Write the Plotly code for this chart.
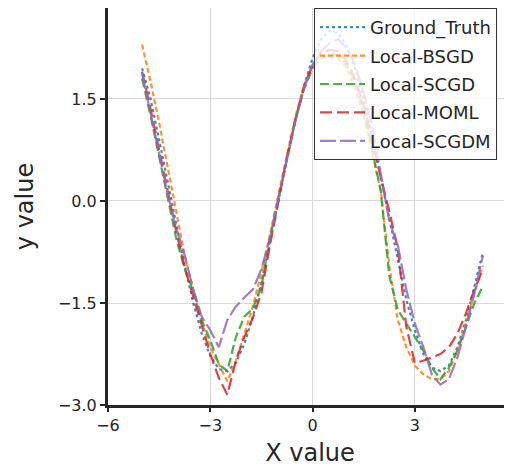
import plotly.graph_objects as go

x_vals = [-5.00, -4.75, -4.50, -4.25, -4.00, -3.75, -3.50, -3.25, -3.00, -2.75,
          -2.50, -2.25, -2.00, -1.75, -1.50, -1.25, -1.00, -0.75, -0.50, -0.25,
          0.00, 0.25, 0.50, 0.75, 1.00, 1.25, 1.50, 1.75, 2.00, 2.25,
          2.50, 2.75, 3.00, 3.25, 3.50, 3.75, 4.00, 4.25, 4.50, 4.75, 5.00]

ground_truth = [1.95, 1.50, 0.90, 0.28, -0.35, -0.95, -1.50, -1.95, -2.28, -2.47,
                -2.50, -2.38, -2.10, -1.70, -1.20, -0.62, 0.00, 0.62, 1.20, 1.70,
                2.10, 2.38, 2.50, 2.47, 2.28, 1.95, 1.50, 0.95, 0.35, -0.28,
                -0.90, -1.45, -1.90, -2.25, -2.45, -2.50, -2.42, -2.15, -1.75, -1.25, -0.75]

local_bsgd = [2.30, 1.75, 1.15, 0.50, -0.15, -0.80, -1.30, -1.80, -2.15, -2.40,
              -2.65, -2.35, -1.95, -1.55, -1.05, -0.50, 0.10, 0.70, 1.25, 1.70,
              2.00, 2.18, 2.22, 2.10, 1.95, 1.65, 1.25, 0.70, 0.15, -0.95,
              -1.75, -2.15, -2.42, -2.55, -2.62, -2.62, -2.50, -2.20, -1.80, -1.35, -0.95]

local_scgd = [1.80, 1.25, 0.65, 0.05, -0.55, -1.00, -1.32, -1.75, -2.05, -2.40,
              -2.50, -2.00, -1.70, -1.58, -1.25, -0.55, 0.05, 0.65, 1.20, 1.65,
              1.95, 2.10, 2.15, 2.15, 2.00, 1.75, 1.35, 0.75, 0.15, -1.10,
              -1.60, -1.80, -2.00, -2.20, -2.45, -2.62, -2.45, -2.20, -1.85, -1.50, -1.25]

local_moml = [1.90, 1.35, 0.75, 0.15, -0.45, -0.98, -1.40, -1.85, -2.25, -2.60,
              -2.85, -2.35, -2.00, -1.72, -1.35, -0.65, 0.00, 0.65, 1.20, 1.68,
              2.00, 2.18, 2.22, 2.20, 2.05, 1.80, 1.40, 0.90, 0.35, -0.15,
              -0.70, -1.85, -2.38, -2.35, -2.30, -2.25, -2.15, -1.95, -1.65, -1.30, -1.00]

local_scgdm = [1.88, 1.30, 0.70, 0.10, -0.40, -0.80, -1.30, -1.70, -1.90, -2.15,
               -1.75, -1.55, -1.42, -1.30, -1.00, -0.55, 0.05, 0.62, 1.18, 1.65,
               2.00, 2.20, 2.32, 2.38, 2.25, 2.00, 1.60, 1.10, 0.40, -0.30,
               -0.65, -1.30, -1.80, -2.15, -2.55, -2.70, -2.62, -2.30, -1.85, -1.35, -0.80]

series_names = ["Ground_Truth", "Local-BSGD", "Local-SCGD", "Local-MOML", "Local-SCGDM"]
series_values = [ground_truth, local_bsgd, local_scgd, local_moml, local_scgdm]
colors = ["#1f77b4", "#ff7f0e", "#2ca02c", "#d62728", "#9467bd"]
dashes = ["dot", "5px,3px", "9px,4px", "12px,5px", "16px,4px"]

x_ticks = [-6, -3, 0, 3]
y_ticks = [-3.0, -1.5, 0.0, 1.5]

fig = go.Figure()
for name, vals, c, d in zip(series_names, series_values, colors, dashes):
    fig.add_trace(go.Scatter(x=x_vals, y=vals, mode="lines", name=name,
                             legendgroup=name, opacity=0.85,
                             line=dict(color=c, width=2.2, dash=d)))

font_family = "DejaVu Sans"
fig.update_layout(
    width=512, height=474,
    margin=dict(l=100, r=8, t=0, b=77, autoexpand=False),
    paper_bgcolor="white", plot_bgcolor="white",
    font=dict(family=font_family, color="#262626"),
    showlegend=True,
    legend=dict(x=0.51, y=1.0, xanchor="left", yanchor="top",
                bgcolor="rgba(255,255,255,0.8)", bordercolor="#333333", borderwidth=1,
                font=dict(size=18, family=font_family, color="#262626"),
                itemwidth=45, tracegroupgap=2),
    xaxis=dict(range=[-6, 5.85], tickvals=x_ticks, ticktext=["\u22126", "\u22123", "0", "3"],
               automargin=False,
               showgrid=True, gridcolor="#d9d9d9", gridwidth=1, zeroline=False,
               showline=True, linecolor="#262626", linewidth=3,
               ticks="outside", ticklen=4, tickwidth=1.5, tickcolor="#262626",
               tickfont=dict(size=16),
               title=dict(text="X value", font=dict(size=24), standoff=10)),
    yaxis=dict(range=[-3.0, 2.838], tickvals=y_ticks,
               ticktext=["\u22123.0", "\u22121.5", "0.0", "1.5"],
               automargin=False,
               showgrid=True, gridcolor="#d9d9d9", gridwidth=1, zeroline=False,
               showline=True, linecolor="#262626", linewidth=3,
               ticks="outside", ticklen=5, tickwidth=1.5, tickcolor="#262626",
               tickfont=dict(size=16),
               title=dict(text="y value", font=dict(size=24), standoff=18)),
)

fig.write_html("out.html")
